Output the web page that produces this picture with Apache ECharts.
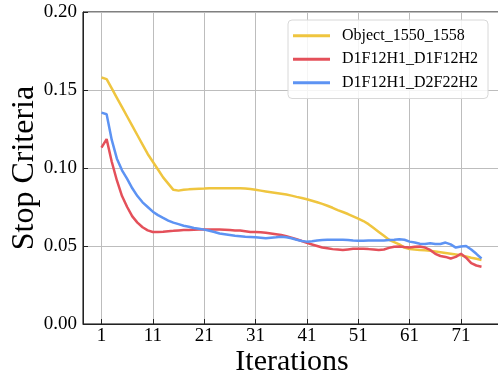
<!DOCTYPE html>
<html>
<head>
<meta charset="utf-8">
<script src="https://cdn.jsdelivr.net/npm/echarts@6/dist/echarts.min.js"></script>
<style>
  html, body { margin: 0; padding: 0; background: #fff; }
  #chart { width: 498px; height: 377px; }
</style>
</head>
<body>
<div id="chart"></div>
<script>
// series values, one per iteration (1..75)
const object1550 = [
  0.158, 0.157, 0.151, 0.145, 0.139, 0.133, 0.127, 0.121, 0.115, 0.109,
  0.104, 0.099, 0.094, 0.090, 0.086, 0.0855, 0.086, 0.0863, 0.0865, 0.0867,
  0.0868, 0.087, 0.087, 0.087, 0.087, 0.087, 0.087, 0.087, 0.0868, 0.0865,
  0.086, 0.0855, 0.085, 0.0845, 0.084, 0.0835, 0.083, 0.0823, 0.0815, 0.0808,
  0.080, 0.079, 0.078, 0.077, 0.0758, 0.0745, 0.073, 0.0718, 0.0705, 0.069,
  0.0675, 0.066, 0.064, 0.0615, 0.059, 0.0565, 0.054, 0.0525, 0.051, 0.049,
  0.048, 0.0478, 0.0475, 0.0472, 0.047, 0.0465, 0.046, 0.0455, 0.045, 0.0445,
  0.044, 0.0433, 0.0425, 0.0418, 0.041
]
const d1f12h1D1f12h2 = [
  0.113, 0.1185, 0.104, 0.092, 0.082, 0.075, 0.069, 0.065, 0.062, 0.060,
  0.059, 0.059, 0.0592, 0.0595, 0.0597, 0.060, 0.0602, 0.0603, 0.0604, 0.0605,
  0.0605, 0.0605, 0.0605, 0.0605, 0.0604, 0.0602, 0.060, 0.060, 0.0595, 0.059,
  0.059, 0.0588, 0.0585, 0.058, 0.0575, 0.057, 0.0562, 0.0553, 0.0543, 0.0532,
  0.052, 0.051, 0.050, 0.049, 0.0485, 0.048, 0.0477, 0.0474, 0.0478, 0.0482,
  0.0483, 0.0482, 0.048, 0.0477, 0.0474, 0.0478, 0.0488, 0.0495, 0.0497, 0.0493,
  0.049, 0.0495, 0.0497, 0.049, 0.0475, 0.045, 0.0436, 0.043, 0.042, 0.043,
  0.045, 0.0425, 0.039, 0.0375, 0.0367
]
const d1f12h1D2f22h2 = [
  0.1355, 0.1345, 0.118, 0.106, 0.0985, 0.093, 0.087, 0.082, 0.078, 0.075,
  0.072, 0.0698, 0.068, 0.0663, 0.065, 0.064, 0.063, 0.0623, 0.0615, 0.061,
  0.0605, 0.0598, 0.059, 0.058, 0.0575, 0.057, 0.0565, 0.0563, 0.056, 0.0558,
  0.0556, 0.0553, 0.055, 0.0553, 0.0556, 0.056, 0.0556, 0.055, 0.054, 0.0532,
  0.0528, 0.053, 0.0535, 0.0538, 0.054, 0.054, 0.054, 0.054, 0.0538, 0.0535,
  0.0534, 0.0534, 0.0535, 0.0536, 0.0535, 0.0536, 0.0538, 0.054, 0.0543, 0.054,
  0.0528, 0.0522, 0.0515, 0.0513, 0.0518, 0.0513, 0.0513, 0.0522, 0.051, 0.049,
  0.0497, 0.050, 0.0478, 0.045, 0.042
]

const seriesNames = ['Object_1550_1558', 'D1F12H1_D1F12H2', 'D1F12H1_D2F22H2']
const seriesColors = ['#EFC53F', '#E4505A', '#5D93F3']
const xTicks = [1, 11, 21, 31, 41, 51, 61, 71]

const font = '"Liberation Serif", "DejaVu Serif", serif'

const toPoints = (arr) => arr.map((v, i) => [i + 1, v])

const chart = echarts.init(document.getElementById('chart'))

const option = {
  animation: false,
  grid: {
    left: 83,
    right: -3,
    top: 12,
    bottom: 53,
    outerBoundsMode: 'none',
    show: true,
    borderColor: '#000',
    borderWidth: 1,
  },
  legend: {
    data: seriesNames,
    orient: 'vertical',
    left: 288,
    top: 20,
    width: 204,
    padding: [6, 10, 6, 5],
    itemGap: 4,
    itemWidth: 37,
    itemHeight: 3,
    icon: 'rect',
    borderColor: '#d8d8d8',
    borderWidth: 1,
    borderRadius: 4,
    backgroundColor: 'rgba(255,255,255,0.85)',
    textStyle: {
      fontFamily: font,
      fontSize: 16,
      color: '#000',
      lineHeight: 19.5,
      padding: [0, 0, 0, 7],
    },
  },
  xAxis: {
    type: 'value',
    min: -2.6,
    max: 78.8,
    name: 'Iterations',
    nameLocation: 'middle',
    nameMoveOverlap: false,
    nameGap: 23,
    nameTextStyle: { fontFamily: font, fontSize: 30, color: '#000' },
    axisLine: { show: true, onZero: false, lineStyle: { color: '#222', width: 1 } },
    axisTick: { show: true, inside: true, length: 5, customValues: xTicks, lineStyle: { color: '#222' } },
    axisLabel: {
      customValues: xTicks,
      fontFamily: font,
      fontSize: 19,
      color: '#000',
      margin: 3,
    },
    splitLine: { show: true, lineStyle: { color: '#bdbdbd', width: 1 } },
  },
  yAxis: {
    type: 'value',
    min: 0,
    max: 0.2,
    interval: 0.05,
    name: 'Stop Criteria',
    nameLocation: 'middle',
    nameMoveOverlap: false,
    nameGap: 42,
    nameTextStyle: { fontFamily: font, fontSize: 32, color: '#000' },
    axisLine: { show: true, onZero: false, lineStyle: { color: '#222', width: 1 } },
    axisTick: { show: true, inside: true, length: 5, lineStyle: { color: '#222' } },
    axisLabel: {
      fontFamily: font,
      fontSize: 19,
      color: '#000',
      margin: 6,
      formatter: (v) => v.toFixed(2),
    },
    splitLine: { show: true, lineStyle: { color: '#bdbdbd', width: 1 } },
  },
  series: [object1550, d1f12h1D1f12h2, d1f12h1D2f22h2].map((arr, i) => ({
    name: seriesNames[i],
    type: 'line',
    data: toPoints(arr),
    showSymbol: false,
    symbol: 'none',
    color: seriesColors[i],
    lineStyle: { width: 2.5, color: seriesColors[i] },
    z: 3 + i,
  })),
}

chart.setOption(option)
</script>
</body>
</html>
